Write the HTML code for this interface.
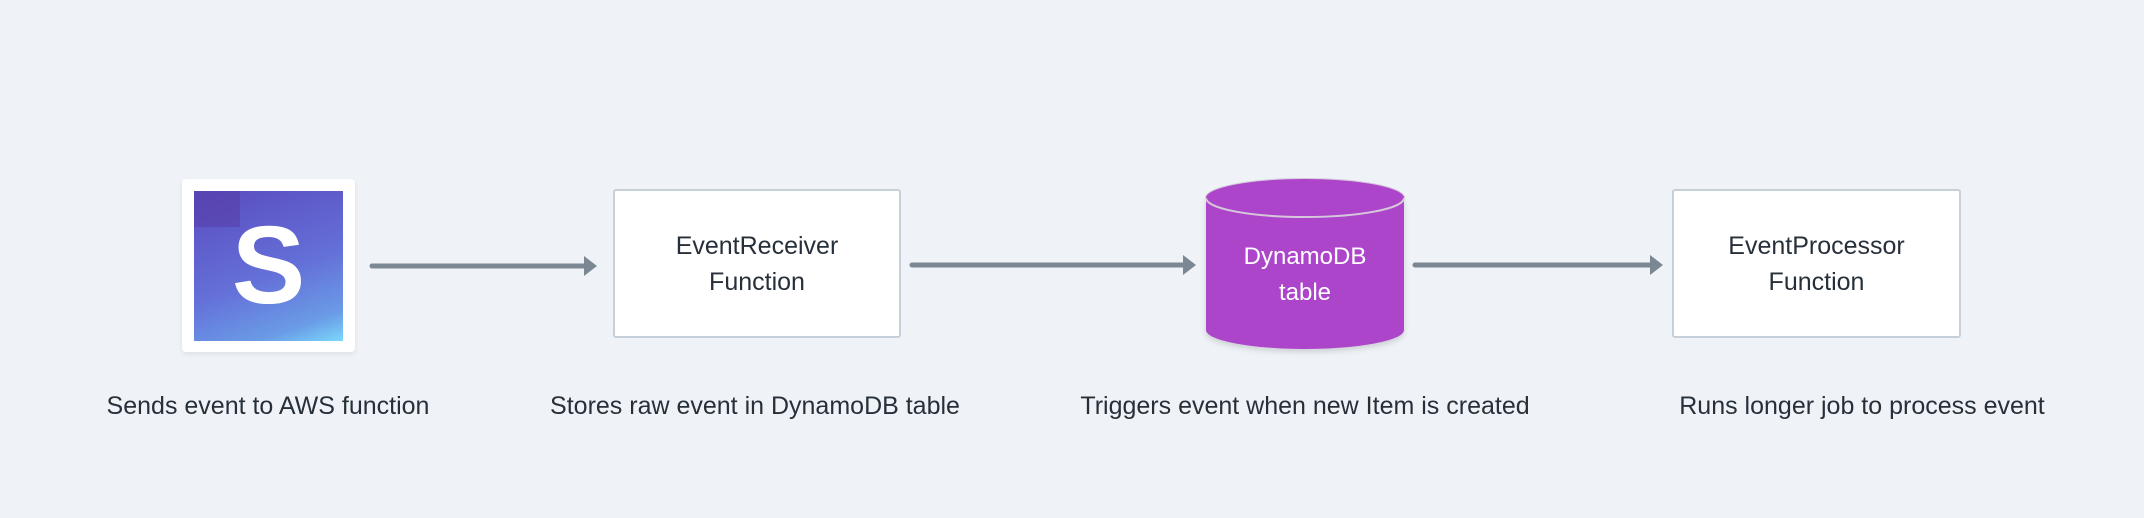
<!DOCTYPE html>
<html><head><style>
body{margin:0;width:2144px;height:518px;background:#eff3f7;font-family:"Liberation Sans",sans-serif;position:relative;overflow:hidden}
.abs{position:absolute}
.box{position:absolute;background:#fff;border:2px solid #c5d0da;border-radius:3px;box-sizing:border-box;display:flex;align-items:center;justify-content:center;text-align:center;color:#27303a;font-size:25px;line-height:36px}
.lbl{position:absolute;top:392px;font-size:25px;color:#27303a;white-space:nowrap;transform:translateX(-50%)}
</style></head><body>
<div class="abs" style="left:182px;top:179px;width:173px;height:173px;background:#fff;border-radius:4px;box-shadow:0 2px 6px rgba(0,0,0,0.08)"></div>
<div class="abs" style="left:194px;top:191px;width:149px;height:150px;background:linear-gradient(160deg,#5a4bbf 0%,#6470d8 55%,#6a9be6 85%,#7ad8fb 100%);overflow:hidden">
<div class="abs" style="left:0;top:0;width:46px;height:36px;background:#5640a8;opacity:.6"></div>
<div class="abs" style="left:0;top:0;width:149px;height:150px;color:#fff;font-weight:bold;font-size:110px;line-height:150px;text-align:center">S</div>
</div>
<svg class="abs" style="left:0;top:0" width="2144" height="518">
<g stroke="#7b8792" stroke-width="5" stroke-linecap="round">
<line x1="372" y1="266" x2="588" y2="266"/>
<line x1="912" y1="265" x2="1188" y2="265"/>
<line x1="1415" y1="265" x2="1656" y2="265"/>
</g>
<g fill="#7b8792">
<polygon points="584,256 597,266 584,276"/>
<polygon points="1183,255 1196,265 1183,275"/>
<polygon points="1650,255 1663,265 1650,275"/>
</g>
<defs><filter id="sh"><feDropShadow dx="0" dy="3" stdDeviation="3" flood-opacity="0.15"/></filter></defs>
<g filter="url(#sh)">
<path d="M1206,198 L1206,330 A99,19 0 0 0 1404,330 L1404,198 Z" fill="#ad45cb"/>
</g>
<ellipse cx="1305" cy="198" rx="99" ry="19" fill="#ad45cb" stroke="#d6c8dc" stroke-width="2"/>
<path d="M1206,198 A99,19 0 0 1 1404,198" fill="#ad45cb"/>
<text x="1305" y="264" fill="#fff" font-size="24" text-anchor="middle" font-family="Liberation Sans, sans-serif">DynamoDB</text>
<text x="1305" y="300" fill="#fff" font-size="24" text-anchor="middle" font-family="Liberation Sans, sans-serif">table</text>
</svg>
<div class="box" style="left:613px;top:189px;width:288px;height:149px">EventReceiver<br>Function</div>
<div class="box" style="left:1672px;top:189px;width:289px;height:149px">EventProcessor<br>Function</div>
<div class="lbl" style="left:268px">Sends event to AWS function</div>
<div class="lbl" style="left:755px">Stores raw event in DynamoDB table</div>
<div class="lbl" style="left:1305px">Triggers event when new Item is created</div>
<div class="lbl" style="left:1862px">Runs longer job to process event</div>
</body></html>
